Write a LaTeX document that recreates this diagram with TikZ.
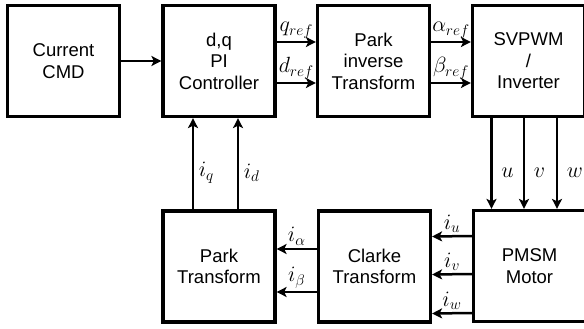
\RequirePackage{fix-cm}
\documentclass[tikz,border=0pt]{standalone}
\usepackage{fontspec}
\setmainfont{Liberation Sans}
\usetikzlibrary{arrows.meta}
\begin{document}
\begin{tikzpicture}[x=1pt,y=-1pt,
  blk/.style={draw, line width=3.2pt, minimum width=112pt, minimum height=111pt,
    inner sep=0pt, align=center, font=\fontsize{18.5}{21.5}\selectfont},
  arr/.style={line width=2.5pt, -{Stealth[length=10pt,width=10pt,inset=2.5pt]}},
  lbl/.style={font=\fontsize{22}{26}\selectfont, inner sep=2.5pt}]
\useasboundingbox (0,0) rectangle (584,329);
\clip (0,0) rectangle (584,329);
\fill[white] (0,0) rectangle (584,329);

% signal-flow blocks
\node[blk] (cmd)    at (63.5,61)    {Current\\CMD};
\node[blk] (pi)     at (219,61)     {d,q\\PI\\Controller};
\node[blk] (pinv)   at (373.5,61)   {Park\\inverse\\Transform};
\node[blk] (svp)    at (528.5,61)   {SVPWM\\/\\Inverter};
\node[blk] (park)   at (219,266.5)  {Park\\Transform};
\node[blk] (clarke) at (374.5,266.5){Clarke\\Transform};
\node[blk] (pmsm)   at (529.5,266)  {PMSM\\Motor};

% forward path
\draw[arr] (cmd.east) -- (pi.west);
\draw[arr] ([yshift=19pt]pi.east) -- node[lbl,above] {$q_{ref}$} ([yshift=19pt]pinv.west);
\draw[arr] ([yshift=-22pt]pi.east) -- node[lbl,above] {$d_{ref}$} ([yshift=-22pt]pinv.west);
\draw[arr] ([yshift=19pt]pinv.east) -- node[lbl,above] {$\alpha_{ref}$} ([yshift=19pt]svp.west);
\draw[arr] ([yshift=-22pt]pinv.east) -- node[lbl,above] {$\beta_{ref}$} ([yshift=-22pt]svp.west);

% phase voltages
\draw[arr] ([xshift=-37pt]svp.south) -- node[lbl,right=6pt,pos=0.6] {$u$} ([xshift=-38pt]pmsm.north);
\draw[arr] ([xshift=-4.5pt]svp.south) -- node[lbl,right=6pt,pos=0.6] {$v$} ([xshift=-5.5pt]pmsm.north);
\draw[arr] ([xshift=28.5pt]svp.south) -- node[lbl,right=6pt,pos=0.6] {$w$} ([xshift=27.5pt]pmsm.north);

% measured currents
\draw[arr] ([yshift=30pt]pmsm.west) -- node[lbl,above] {$i_u$} ([yshift=30pt]clarke.east);
\draw[arr] ([yshift=-8pt]pmsm.west) -- node[lbl,above] {$i_v$} ([yshift=-8pt]clarke.east);
\draw[arr] ([yshift=-47pt]pmsm.west) -- node[lbl,above] {$i_w$} ([yshift=-47pt]clarke.east);
\draw[arr] ([yshift=17.5pt]clarke.west) -- node[lbl,above] {$i_\alpha$} ([yshift=17.5pt]park.east);
\draw[arr] ([yshift=-25.5pt]clarke.west) -- node[lbl,above] {$i_\beta$} ([yshift=-25.5pt]park.east);

% feedback to the controller
\draw[arr] ([xshift=-26pt]park.north) -- node[lbl,right=2pt,pos=0.4] {$i_q$} ([xshift=-26pt]pi.south);
\draw[arr] ([xshift=19pt]park.north) -- node[lbl,right=2pt,pos=0.4] {$i_d$} ([xshift=19pt]pi.south);
\end{tikzpicture}
\end{document}
